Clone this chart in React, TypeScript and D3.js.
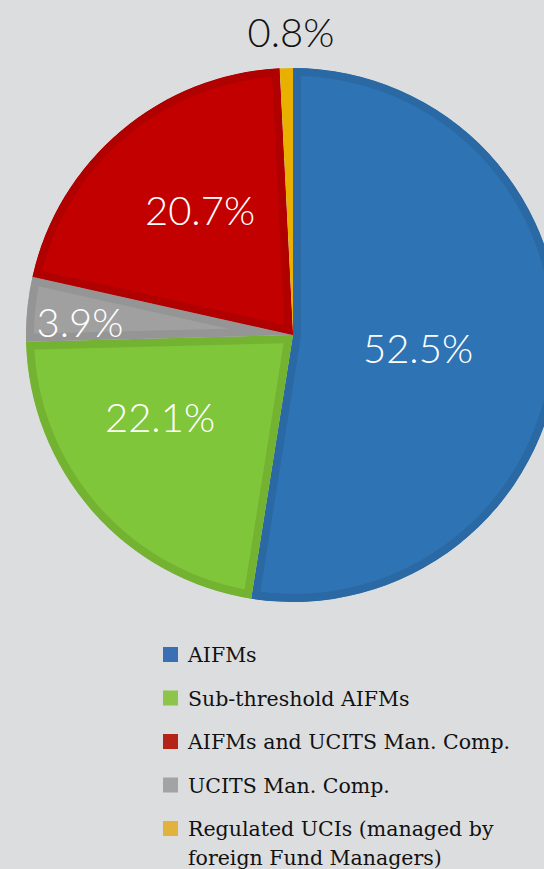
import React from "react";
import * as d3 from "d3";

const pieOrder = ["AIFMs", "Sub-threshold AIFMs", "UCITS Man. Comp.", "AIFMs and UCITS Man. Comp.", "Regulated UCIs"];
const pieValues = [52.5, 22.1, 3.9, 20.7, 0.8];
const pieLabels = ["52.5%", "22.1%", "3.9%", "20.7%", "0.8%"];
const fillColors = ["#2e74b5", "#80c63a", "#a0a0a0", "#c20000", "#e9b000"];
const edgeColors = ["#2a69a3", "#74b232", "#959595", "#b00000", "#d9a300"];

const legendLabels = [
  ["AIFMs"],
  ["Sub-threshold AIFMs"],
  ["AIFMs and UCITS Man. Comp."],
  ["UCITS Man. Comp."],
  ["Regulated UCIs (managed by", "foreign Fund Managers)"],
];
const legendColors = ["#3a6fb5", "#8cc54a", "#b52218", "#a3a3a3", "#e2b33c"];

const W = 544, H = 869;
const cx = 293, cy = 335, R = 267;

export default function App() {
  const pie = d3.pie<number>().sort(null).value((d) => d)(pieValues);
  const arc = d3.arc<d3.PieArcDatum<number>>().innerRadius(0).outerRadius(R);
  const labelPos: [number, number][] = [
    [418, 348],
    [160, 417],
    [80, 322],
    [200, 210],
    [291, 32],
  ];
  return (
    <svg width={W} height={H} style={{ position: "absolute", left: 0, top: 0, background: "#dcdddf" }}>
      <rect width={W} height={H} fill="#dcdddf" />
      <defs>
        {pie.map((p, i) => (
          <clipPath id={`clip${i}`} key={i}>
            <path d={arc(p) || ""} />
          </clipPath>
        ))}
      </defs>
      <g transform={`translate(${cx},${cy})`}>
        {pie.map((p, i) => (
          <path
            key={i}
            d={arc(p) || ""}
            fill={fillColors[i]}
            stroke={edgeColors[i]}
            strokeWidth={i === 4 ? 0 : 16}
            strokeLinejoin="miter"
            clipPath={`url(#clip${i})`}
          />
        ))}
      </g>
      {pieLabels.map((t, i) => (
        <text
          key={i}
          x={labelPos[i][0]}
          y={labelPos[i][1]}
          textAnchor="middle"
          dominantBaseline="central"
          fontFamily="Lato, 'Open Sans', sans-serif"
          fontWeight={300}
          fontSize={40}
          fill={i === 4 ? "#111" : "#fff"}
        >
          {t}
        </text>
      ))}
      {legendLabels.map((lines, i) => {
        const y = 655 + i * 43.5;
        return (
          <g key={i}>
            <rect x={163} y={y - 8} width={15} height={15} fill={legendColors[i]} />
            {lines.map((l, j) => (
              <text
                key={j}
                x={188}
                y={y + j * 29}
                dominantBaseline="central"
                fontFamily="'DejaVu Serif', serif"
                fontSize={20.5}
                fill="#111"
              >
                {l}
              </text>
            ))}
          </g>
        );
      })}
    </svg>
  );
}
